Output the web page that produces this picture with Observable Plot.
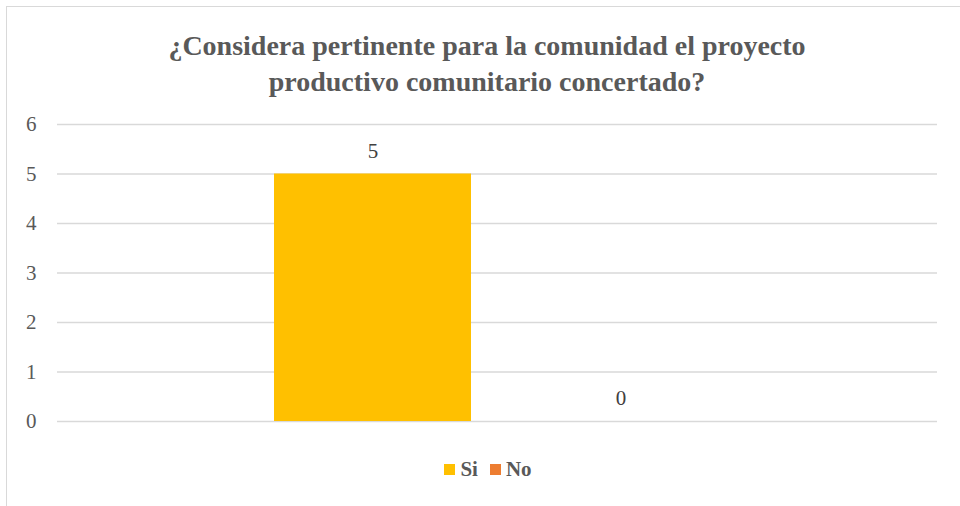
<!DOCTYPE html>
<html>
<head>
<meta charset="utf-8">
<script src="https://cdn.jsdelivr.net/npm/d3@7"></script>
<script src="https://cdn.jsdelivr.net/npm/@observablehq/plot@0.6"></script>
<style>
  body { margin: 0; background: #fff; }
  #wrap { position: relative; width: 960px; height: 506px; overflow: hidden; font-family: "Liberation Serif", "Times New Roman", serif; }
  #frame { position: absolute; left: 6px; top: 6px; width: 1000px; height: 600px; border-left: 1.5px solid #d9d9d9; border-top: 1.5px solid #d9d9d9; }
  #title { position: absolute; left: 0; width: 974px; top: 28px; text-align: center; font-weight: bold; font-size: 28px; line-height: 36px; color: #595959; }
  #chart { position: absolute; left: 0; top: 0; }
  #legend { position: absolute; left: 0; width: 976px; top: 457px; text-align: center; font-weight: bold; font-size: 21px; color: #595959; }
  .sw { display: inline-block; width: 11px; height: 11px; margin-right: 5px; vertical-align: 1px; }
  .item { margin: 0 6px; }
</style>
</head>
<body>
<div id="wrap">
  <div id="frame"></div>
  <div id="chart"></div>
  <div id="title">¿Considera pertinente para la comunidad el proyecto<br>productivo comunitario concertado?</div>
  <div id="legend"></div>
</div>
<script>
const categories = ["Si", "No"];
const values = [5, 0];
const colors = ["#FFC000", "#ED7D31"];
const yTicks = [0, 1, 2, 3, 4, 5, 6];

const data = categories.map((c, i) => ({cat: c, value: values[i]}));

const chart = Plot.plot({
  width: 960,
  height: 506,
  marginTop: 124,
  marginBottom: 85,
  marginLeft: 57,
  marginRight: 23,
  style: {fontFamily: '"Liberation Serif", "Times New Roman", serif', fontSize: "21px", background: "transparent"},
  x: {domain: categories, paddingInner: 0.205, paddingOuter: 0.87, axis: null},
  y: {domain: [0, 6], ticks: yTicks, tickFormat: "d"},
  color: {domain: categories, range: colors},
  marks: [
    Plot.gridY(yTicks, {stroke: "#d9d9d9", strokeOpacity: 1, strokeWidth: 1.5}),
    Plot.axisY(yTicks, {tickSize: 0, tickPadding: 21, fontSize: 21, fill: "#595959", tickFormat: "d", label: null}),
    Plot.barY(data, {x: "cat", y: "value", fill: "cat"}),
    Plot.text(data, {x: "cat", y: "value", text: d => String(d.value), dy: -23, fontSize: 21, fill: "#404040"})
  ]
});
document.getElementById("chart").appendChild(chart);

const legend = document.getElementById("legend");
categories.forEach((c, i) => {
  const s = document.createElement("span");
  s.className = "item";
  s.innerHTML = `<span class="sw" style="background:${colors[i]}"></span>${c}`;
  legend.appendChild(s);
});
</script>
</body>
</html>
